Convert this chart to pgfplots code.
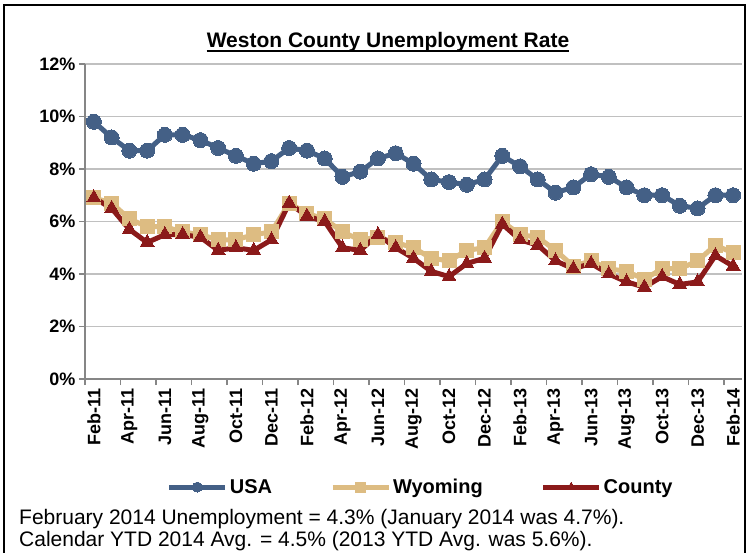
\documentclass[border=0pt]{standalone}
\usepackage{fontspec}
\setmainfont{Liberation Sans}
\usepackage{pgfplots}
\pgfplotsset{compat=1.18}
\definecolor{usa}{RGB}{68,96,134}
\definecolor{wyo}{RGB}{221,188,130}
\definecolor{cty}{RGB}{139,26,26}
\definecolor{gridc}{RGB}{192,192,192}
\definecolor{axc}{RGB}{134,134,134}
\pgfplotstableread{
i usa wyo cty
0 9.8 6.9 6.9
1 9.2 6.7 6.5
2 8.7 6.1 5.7
3 8.7 5.8 5.2
4 9.3 5.8 5.5
5 9.3 5.6 5.5
6 9.1 5.5 5.4
7 8.8 5.3 4.9
8 8.5 5.3 5.0
9 8.2 5.5 4.9
10 8.3 5.6 5.3
11 8.8 6.7 6.7
12 8.7 6.3 6.2
13 8.4 6.1 6.0
14 7.7 5.6 5.0
15 7.9 5.3 4.9
16 8.4 5.4 5.5
17 8.6 5.2 5.0
18 8.2 5.0 4.6
19 7.6 4.6 4.1
20 7.5 4.5 3.9
21 7.4 4.9 4.4
22 7.6 5.0 4.6
23 8.5 6.0 5.9
24 8.1 5.5 5.3
25 7.6 5.4 5.1
26 7.1 4.9 4.5
27 7.3 4.3 4.2
28 7.8 4.5 4.4
29 7.7 4.2 4.0
30 7.3 4.1 3.7
31 7.0 3.8 3.5
32 7.0 4.2 3.9
33 6.6 4.2 3.6
34 6.5 4.5 3.7
35 7.0 5.1 4.7
36 7.0 4.8 4.3
}\datatable
\begin{document}
\begin{tikzpicture}[x=1pt,y=1pt]
\useasboundingbox (0,0) rectangle (747,552);
\draw[line width=2pt] (4,-20) -- (4,547) -- (745,547) -- (745,-20);
\node[font=\bfseries\fontsize{21}{25}\selectfont, anchor=base, inner sep=0] (t) at (388,552-48) {Weston County Unemployment Rate};
\draw[line width=1.8pt] ([yshift=-3pt]t.base west) -- ([yshift=-3pt]t.base east);
\begin{axis}[
  at={(85pt,173pt)}, anchor=south west, scale only axis,
  width=657pt, height=315pt,
  xmin=-0.5, xmax=36.5, ymin=0, ymax=12,
  axis lines*=left,
  axis line style={axc, line width=1.5pt},
  ytick={0,2,...,12},
  yticklabels={0\%,2\%,4\%,6\%,8\%,10\%,12\%},
  xtick={0,2,...,36},
  xticklabels={Feb-11,Apr-11,Jun-11,Aug-11,Oct-11,Dec-11,Feb-12,Apr-12,Jun-12,Aug-12,Oct-12,Dec-12,Feb-13,Apr-13,Jun-13,Aug-13,Oct-13,Dec-13,Feb-14},
  minor xtick={-0.5,1.5,...,35.5},
  tick align=outside,
  major x tick style={draw=none},
  minor tick length=6pt, major tick length=6pt,
  every tick/.style={axc, line width=1.5pt},
  ymajorgrids, major grid style={gridc, line width=1.5pt},
  ticklabel style={font=\bfseries\fontsize{18}{20}\selectfont},
  xticklabel style={rotate=90, anchor=east},
  legend style={at={(0.511,-0.343)}, anchor=center, draw=none, fill=none,
    legend columns=3, font=\bfseries\fontsize{20}{22}\selectfont,
    /tikz/every even column/.append style={column sep=56pt},
    inner sep=0pt},
  legend image code/.code={\draw[#1, mark size=5pt, mark repeat=2, mark phase=2] plot coordinates {(0pt,0pt) (28pt,0pt) (56pt,0pt)};},
  every axis plot/.append style={line width=5pt, line join=round},
  clip=false,
]
\addplot[usa, mark=*, mark size=7.5pt, mark options={solid, fill=usa, draw=usa, line width=0pt}] table[x=i,y=usa] {\datatable};
\addlegendentry{USA}
\addplot[wyo, mark=square*, mark size=7pt, mark options={solid, fill=wyo, draw=wyo, line width=0pt}] table[x=i,y=wyo] {\datatable};
\addlegendentry{Wyoming}
\addplot[cty, mark=triangle*, mark size=8pt, mark options={solid, fill=cty, draw=cty, line width=0pt}] table[x=i,y=cty] {\datatable};
\addlegendentry{County}
\end{axis}
\node[anchor=base west, inner sep=0, font=\fontsize{21}{24}\selectfont] at (19,28) {February 2014 Unemployment = 4.3\% (January 2014 was 4.7\%).};
\node[anchor=base west, inner sep=0, font=\fontsize{21}{24}\selectfont] at (19,6) {Calendar YTD 2014 Avg. = 4.5\% (2013 YTD Avg. was 5.6\%).};
\end{tikzpicture}
\end{document}
